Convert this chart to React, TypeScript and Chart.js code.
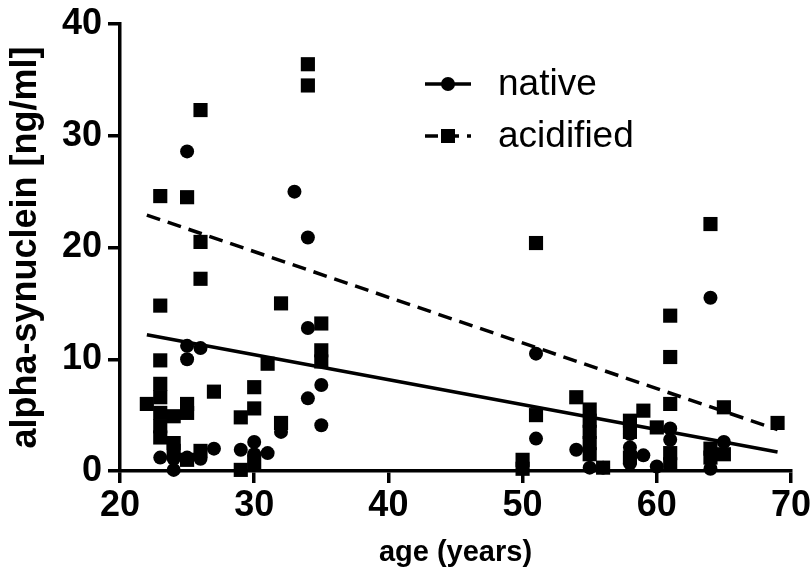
import React, { useEffect, useRef } from "react";
import { Chart, registerables } from "chart.js";

Chart.register(...registerables);

const nativeAges = [23, 24, 24, 25, 25, 25, 25, 26, 26, 27, 29, 30, 30, 31, 32, 33, 34, 34, 34, 35, 35, 51, 51, 54, 55, 56, 58, 58, 58, 59, 60, 61, 61, 64, 64, 65];
const nativeValues = [1.2, 0.1, 1.1, 28.6, 11.2, 10.0, 1.2, 11.0, 1.1, 2.0, 1.9, 2.6, 1.5, 1.6, 3.5, 25.0, 20.9, 12.8, 6.5, 7.7, 4.1, 10.5, 2.9, 1.9, 0.3, 0.3, 3.3, 2.1, 0.7, 1.4, 0.4, 3.8, 2.8, 15.5, 0.2, 2.6];

const acidAges = [22, 23, 23, 23, 23, 23, 23, 23, 23, 24, 24, 24, 25, 25, 25, 25, 26, 26, 26, 26, 27, 29, 29, 30, 30, 30, 31, 32, 32, 34, 34, 35, 35, 35, 50, 50, 51, 51, 54, 55, 55, 55, 55, 55, 56, 58, 58, 58, 59, 60, 61, 61, 61, 61, 61, 64, 64, 64, 65, 65, 69];
const acidValues = [6.0, 24.6, 14.8, 9.9, 7.8, 6.6, 5.2, 4.0, 3.0, 4.9, 2.5, 1.8, 24.5, 6.0, 5.2, 1.0, 32.3, 20.5, 17.2, 1.8, 7.1, 4.8, 0.1, 7.5, 5.6, 0.8, 9.6, 15.0, 4.3, 36.4, 34.5, 13.2, 10.8, 9.8, 1.0, 0.2, 20.4, 5.0, 6.6, 5.5, 4.5, 3.5, 2.5, 1.5, 0.3, 4.5, 3.5, 1.2, 5.4, 3.9, 13.9, 10.2, 6.0, 1.6, 0.6, 22.1, 2.0, 1.2, 5.7, 1.5, 4.3];

const fitAges = [22, 69];
const nativeFit = [12.2, 1.7];
const acidFit = [22.9, 3.7];

const xTicks = [20, 30, 40, 50, 60, 70];
const yTicks = [0, 10, 20, 30, 40];

const legendLabels = ["native", "acidified"];

const FONT = "'Liberation Sans', Arial, Helvetica, sans-serif";

const pts = (xs: number[], ys: number[]) => xs.map((x, i) => ({ x, y: ys[i] }));

const legendPlugin = {
  id: "insideLegend",
  afterDraw(chart: any) {
    const ctx = chart.ctx;
    ctx.save();
    ctx.strokeStyle = "#000";
    ctx.fillStyle = "#000";
    ctx.lineWidth = 3.5;
    let y = 84;
    ctx.setLineDash([]);
    ctx.beginPath();
    ctx.moveTo(425, y);
    ctx.lineTo(471, y);
    ctx.stroke();
    ctx.beginPath();
    ctx.arc(448, y, 7, 0, Math.PI * 2);
    ctx.fill();
    ctx.font = `37px ${FONT}`;
    ctx.textBaseline = "middle";
    ctx.textAlign = "left";
    ctx.fillText(legendLabels[0], 498, y + 1);
    y = 136;
    ctx.setLineDash([13, 8]);
    ctx.beginPath();
    ctx.moveTo(425, y);
    ctx.lineTo(471, y);
    ctx.stroke();
    ctx.setLineDash([]);
    ctx.fillRect(448 - 7, y - 7, 14, 14);
    ctx.fillText(legendLabels[1], 498, y + 1);
    ctx.restore();
  },
};

export default function App() {
  const ref = useRef<HTMLCanvasElement>(null);
  useEffect(() => {
    document.body.style.margin = "0";
    const chart = new Chart(ref.current!, {
      type: "scatter",
      data: {
        datasets: [
          {
            label: "native",
            data: pts(nativeAges, nativeValues),
            pointStyle: "circle",
            pointRadius: 7,
            backgroundColor: "#000",
            borderColor: "#000",
            borderWidth: 0,
            clip: false,
          } as any,
          {
            label: "acidified",
            data: pts(acidAges, acidValues),
            pointStyle: "rect",
            pointRadius: 10,
            backgroundColor: "#000",
            borderColor: "#000",
            borderWidth: 0,
            clip: false,
          } as any,
          {
            type: "line",
            label: "native fit",
            data: pts(fitAges, nativeFit),
            borderColor: "#000",
            borderWidth: 3.5,
            pointRadius: 0,
            showLine: true,
            fill: false,
          } as any,
          {
            type: "line",
            label: "acidified fit",
            data: pts(fitAges, acidFit),
            borderColor: "#000",
            borderWidth: 3.5,
            borderDash: [14, 8],
            pointRadius: 0,
            showLine: true,
            fill: false,
          } as any,
        ],
      },
      options: {
        animation: false,
        responsive: false,
        maintainAspectRatio: false,
        layout: { padding: { left: 0, right: 17, top: 22, bottom: 0 } },
        plugins: { legend: { display: false }, tooltip: { enabled: false } },
        scales: {
          x: {
            type: "linear",
            min: 20,
            max: 70,
            afterBuildTicks: (s: any) => { s.ticks = xTicks.map((v) => ({ value: v })); },
            afterFit: (s: any) => { s.height = 104; },
            border: { display: true, color: "#000", width: 3.5 },
            grid: { display: true, drawOnChartArea: false, drawTicks: true, tickLength: 12, color: "#000", lineWidth: 3.5 },
            ticks: { color: "#000", font: { family: FONT, size: 36, weight: "bold" }, padding: 1, maxRotation: 0 },
            title: { display: true, text: "age (years)", color: "#000", font: { family: FONT, size: 29, weight: "bold" }, padding: { top: 0, bottom: 5 } },
          },
          y: {
            type: "linear",
            min: 0,
            max: 40,
            afterBuildTicks: (s: any) => { s.ticks = yTicks.map((v) => ({ value: v })); },
            afterFit: (s: any) => { s.width = 120; },
            border: { display: true, color: "#000", width: 3.5 },
            grid: { display: true, drawOnChartArea: false, drawTicks: true, tickLength: 12, color: "#000", lineWidth: 3.5 },
            ticks: { color: "#000", font: { family: FONT, size: 36, weight: "bold", lineHeight: 1 }, padding: 6 },
            title: { display: true, text: "alpha-synuclein [ng/ml]", color: "#000", font: { family: FONT, size: 36, weight: "bold" }, padding: { top: 4, bottom: 0 } },
          },
        },
      },
      plugins: [legendPlugin],
    });
    return () => chart.destroy();
  }, []);
  return (
    <div style={{ position: "absolute", left: 0, top: 0, width: 812, height: 575, background: "#fff" }}>
      <canvas ref={ref} width={812} height={575} style={{ width: 812, height: 575 }} />
    </div>
  );
}
